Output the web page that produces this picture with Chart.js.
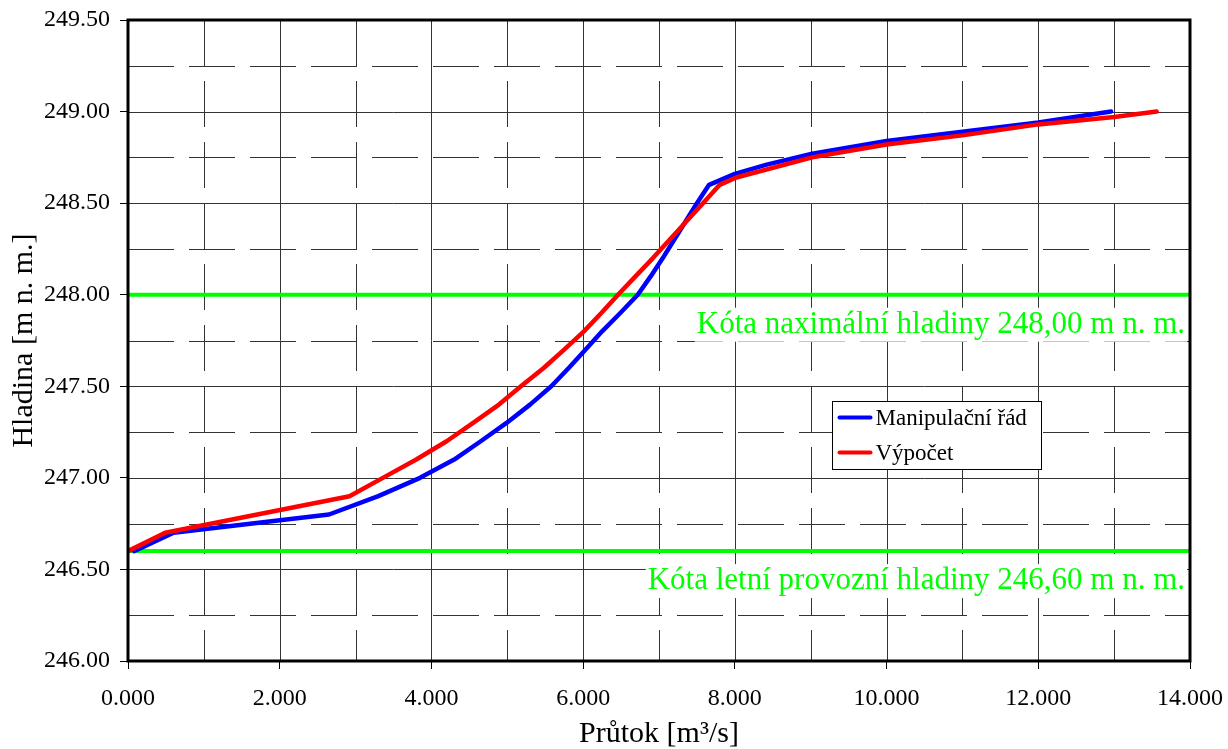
<!DOCTYPE html>
<html>
<head>
<meta charset="utf-8">
<script src="https://cdn.jsdelivr.net/npm/chart.js@4/dist/chart.umd.min.js"></script>
<style>
html,body{margin:0;padding:0;background:#fff;}
#wrap{width:1228px;height:749px;position:relative;}
</style>
</head>
<body>
<div id="wrap"><canvas id="c" width="1228" height="749"></canvas></div>
<script>
// ---- data ----
const seriesNames = ['Manipulační řád', 'Výpočet'];
const manipFlow  = [0.08, 0.60, 2.65, 3.30, 3.85, 4.30, 4.65, 4.99, 5.30, 5.58, 5.81, 6.03, 6.25, 6.49, 6.72, 6.89, 7.05, 7.20, 7.35, 7.50, 7.66, 8.00, 8.42, 9.02, 10.00, 11.00, 12.00, 12.96];
const manipLevel = [246.60, 246.70, 246.80, 246.90, 247.00, 247.10, 247.20, 247.30, 247.40, 247.50, 247.60, 247.70, 247.80, 247.90, 248.00, 248.10, 248.20, 248.30, 248.40, 248.50, 248.60, 248.66, 248.71, 248.77, 248.84, 248.89, 248.94, 249.00];
const calcFlow   = [0.00, 0.49, 2.92, 3.36, 3.80, 4.20, 4.55, 4.89, 5.18, 5.48, 5.75, 6.01, 6.24, 6.46, 6.69, 6.92, 7.14, 7.36, 7.58, 7.80, 8.02, 9.02, 10.00, 11.00, 12.00, 13.00, 13.56];
const calcLevel  = [246.60, 246.70, 246.90, 247.00, 247.10, 247.20, 247.30, 247.40, 247.50, 247.60, 247.70, 247.80, 247.90, 248.00, 248.10, 248.20, 248.30, 248.40, 248.50, 248.60, 248.64, 248.75, 248.82, 248.87, 248.93, 248.97, 249.00];
const refLevels     = [248.00, 246.60];
const refLevelNames = ['Kóta naximální hladiny 248,00 m n. m.', 'Kóta letní provozní hladiny 246,60 m n. m.'];
const refSpan       = [0, 14];
const xTickValues = [0, 2, 4, 6, 8, 10, 12, 14];
const yTickValues = [246.0, 246.5, 247.0, 247.5, 248.0, 248.5, 249.0, 249.5];
const xMinorGrid  = [1, 3, 5, 7, 9, 11, 13];
const yMinorGrid  = [246.25, 246.75, 247.25, 247.75, 248.25, 248.75, 249.25];
const xTitle = 'Průtok [m³/s]';
const yTitle = 'Hladina [m n. m.]';

const FONT = "'Liberation Serif', 'Times New Roman', serif";
const BLUE = '#0000ff', RED = '#ff0000', GREEN = '#00ff00';

const pts = (xs, ys) => xs.map((x, i) => ({x: x, y: ys[i]}));

const datasets = [
  {label: seriesNames[1], data: pts(calcFlow, calcLevel), borderColor: RED, borderWidth: 4.5, order: 0},
  {label: seriesNames[0], data: pts(manipFlow, manipLevel), borderColor: BLUE, borderWidth: 4.5, order: 1}
];
refLevels.forEach((lv, i) => {
  datasets.push({label: refLevelNames[i], data: refSpan.map(x => ({x: x, y: lv})), borderColor: GREEN, borderWidth: 4, order: 2});
});
datasets.forEach(d => {
  d.pointRadius = 0; d.fill = false; d.tension = 0;
  d.borderJoinStyle = 'round'; d.borderCapStyle = 'round';
  d.clip = {left: 0, right: 0, top: 0, bottom: 0};
});

const gridPlugin = {
  id: 'gridPlugin',
  beforeDatasetsDraw(chart) {
    const {ctx, chartArea: a, scales: {x, y}} = chart;
    ctx.save();
    ctx.strokeStyle = '#333';
    ctx.lineWidth = 1;
    ctx.setLineDash([]);
    yTickValues.forEach(v => {
      const p = Math.round(y.getPixelForValue(v)) + 0.5;
      ctx.beginPath(); ctx.moveTo(a.left, p); ctx.lineTo(a.right, p); ctx.stroke();
    });
    xTickValues.forEach(v => {
      const p = Math.round(x.getPixelForValue(v)) + 0.5;
      ctx.beginPath(); ctx.moveTo(p, a.top); ctx.lineTo(p, a.bottom); ctx.stroke();
    });
    ctx.setLineDash([46, 15]);
    yMinorGrid.forEach(v => {
      const p = Math.round(y.getPixelForValue(v)) + 0.5;
      ctx.beginPath(); ctx.moveTo(a.left, p); ctx.lineTo(a.right, p); ctx.stroke();
    });
    xMinorGrid.forEach(v => {
      const p = Math.round(x.getPixelForValue(v)) + 0.5;
      ctx.beginPath(); ctx.moveTo(p, a.top); ctx.lineTo(p, a.bottom); ctx.stroke();
    });
    ctx.restore();
  },
  afterDatasetsDraw(chart) {
    const {ctx, chartArea: a, scales: {x, y}} = chart;
    ctx.save();
    ctx.font = '31px ' + FONT;
    ctx.textAlign = 'right';
    ctx.textBaseline = 'alphabetic';
    refLevels.forEach((lv, i) => {
      const py = y.getPixelForValue(lv) + 38;
      const tx = a.right - 5;
      const m = ctx.measureText(refLevelNames[i]);
      ctx.fillStyle = '#fff';
      ctx.fillRect(tx - m.width - 2, py - m.actualBoundingBoxAscent - 2, m.width + 4, m.actualBoundingBoxAscent + m.actualBoundingBoxDescent + 4);
      ctx.fillStyle = GREEN;
      ctx.fillText(refLevelNames[i], tx, py);
    });
    const lx = 832.5, ly = 401.5, lw = 209, lh = 68;
    ctx.fillStyle = '#fff';
    ctx.fillRect(lx, ly, lw, lh);
    ctx.strokeStyle = '#000';
    ctx.lineWidth = 1;
    ctx.setLineDash([]);
    ctx.strokeRect(lx, ly, lw, lh);
    const entries = [{name: seriesNames[0], color: BLUE}, {name: seriesNames[1], color: RED}];
    ctx.font = '23px ' + FONT;
    ctx.textAlign = 'left';
    ctx.textBaseline = 'middle';
    entries.forEach((e, i) => {
      const cy = ly + 16 + i * 35;
      ctx.strokeStyle = e.color;
      ctx.lineWidth = 4;
      ctx.lineCap = 'round';
      ctx.beginPath(); ctx.moveTo(lx + 7, cy); ctx.lineTo(lx + 38, cy); ctx.stroke();
      ctx.fillStyle = '#000';
      ctx.fillText(e.name, lx + 43, cy + 1);
    });
    ctx.strokeStyle = '#000';
    ctx.lineWidth = 3;
    ctx.lineCap = 'butt';
    ctx.strokeRect(a.left, a.top, a.right - a.left, a.bottom - a.top);
    ctx.restore();
  }
};

new Chart(document.getElementById('c'), {
  type: 'line',
  data: {datasets: datasets},
  plugins: [gridPlugin],
  options: {
    responsive: false,
    devicePixelRatio: 1,
    animation: false,
    layout: {padding: {top: 20, right: 38, left: 0, bottom: 0}},
    plugins: {legend: {display: false}, tooltip: {enabled: false}},
    scales: {
      x: {
        type: 'linear', min: 0, max: 14,
        afterBuildTicks: s => { s.ticks = xTickValues.map(v => ({value: v})); },
        afterFit: s => { s.height = 88; s.paddingLeft = 0; s.paddingRight = 0; },
        ticks: {callback: v => Number(v).toFixed(3), color: '#000', font: {family: FONT, size: 24}, padding: 15, maxRotation: 0, autoSkip: false},
        grid: {drawOnChartArea: false, drawTicks: true, tickLength: 8, tickColor: '#000', tickWidth: 1},
        border: {display: false},
        title: {display: true, text: xTitle, color: '#000', font: {family: FONT, size: 30, lineHeight: 1}, padding: {top: 0, bottom: 0}}
      },
      y: {
        type: 'linear', min: 246, max: 249.5,
        afterBuildTicks: s => { s.ticks = yTickValues.map(v => ({value: v})); },
        afterFit: s => { s.width = 128; s.paddingTop = 0; s.paddingBottom = 0; },
        ticks: {callback: v => Number(v).toFixed(2), color: '#000', font: {family: FONT, size: 24}, padding: 10, autoSkip: false},
        grid: {drawOnChartArea: false, drawTicks: true, tickLength: 8, tickColor: '#000', tickWidth: 1},
        border: {display: false},
        title: {display: true, text: yTitle, color: '#000', font: {family: FONT, size: 30, lineHeight: 1}, padding: {top: 9, bottom: 0}}
      }
    }
  }
});
</script>
</body>
</html>
